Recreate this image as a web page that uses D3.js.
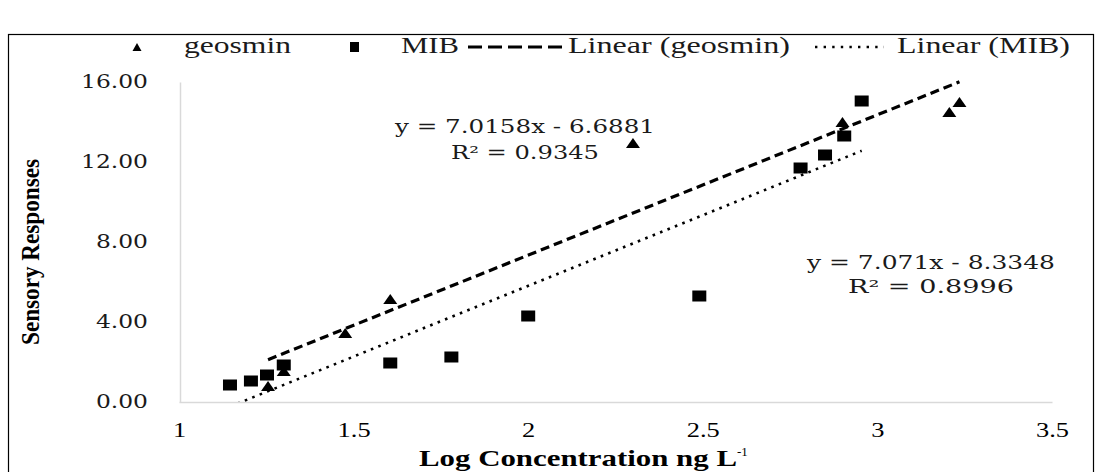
<!DOCTYPE html>
<html>
<head>
<meta charset="utf-8">
<script src="https://cdn.jsdelivr.net/npm/d3@7"></script>
<style>
  body { margin: 0; background: #fff; }
  svg { display: block; }
</style>
</head>
<body>
<div id="chart"></div>
<script>

// data
var geosminX = [1.255, 1.30, 1.476, 1.605, 2.30, 2.90, 3.206, 3.235];
var geosminY = [0.80, 1.55, 3.45, 5.15, 12.95, 14.0, 14.5, 15.0];

var mibX = [1.146, 1.206, 1.252, 1.30, 1.605, 1.78, 2.0, 2.49, 2.78, 2.85, 2.905, 2.955];
var mibY = [0.85, 1.05, 1.35, 1.85, 1.95, 2.25, 4.3, 5.3, 11.7, 12.35, 13.3, 15.05];

// trendline coefficients as printed on the chart
var geosminFit = {slope: 7.0158, intercept: -6.6881, eq: "y = 7.0158x - 6.6881", r2: "R\u00b2 = 0.9345"};
var mibFit = {slope: 7.071, intercept: -8.3348, eq: "y = 7.071x - 8.3348", r2: "R\u00b2 = 0.8996"};

var xTicks = [1, 1.5, 2, 2.5, 3, 3.5];
var yTicks = [0, 4, 8, 12, 16];

var legendLabels = ["geosmin", "MIB", "Linear (geosmin)", "Linear (MIB)"];

var width = 1099, height = 472;

var svg = d3.select("#chart")
  .append("svg")
    .attr("width", width)
    .attr("height", height);

// outer frame
svg.append("rect")
    .attr("x", 8.5)
    .attr("y", 34.5)
    .attr("width", 1085)
    .attr("height", 460)
    .attr("fill", "none")
    .attr("stroke", "#000")
    .attr("stroke-width", 1.2);

var x = d3.scaleLinear().domain([1, 3.5]).range([179, 1052]);
var y = d3.scaleLinear().domain([0, 16]).range([402, 82]);

// X axis
var xAxis = svg.append("g")
    .attr("transform", "translate(0,402)")
    .call(d3.axisBottom(x).tickValues(xTicks).tickSize(0).tickPadding(19)
      .tickFormat(function(d) { return String(d); }));
xAxis.select(".domain").attr("stroke", "#d9d9d9").attr("stroke-width", 1.5);
xAxis.selectAll("text")
    .attr("font-family", "Liberation Serif, serif")
    .attr("font-size", 22)
    .attr("fill", "#000")
    .attr("transform", "scale(1.2,1)");

// Y axis
var yAxis = svg.append("g")
    .attr("transform", "translate(180,0)")
    .call(d3.axisLeft(y).tickValues(yTicks).tickSize(0).tickFormat(d3.format(".2f")));
yAxis.select(".domain").attr("stroke", "#d9d9d9").attr("stroke-width", 1.5);
yAxis.selectAll("text")
    .attr("x", -32 / 1.3)
    .attr("font-family", "DejaVu Serif, serif")
    .attr("font-size", 18)
    .attr("fill", "#1a1a1a")
    .attr("transform", "scale(1.3,1)");

// axis titles
svg.append("text")
    .attr("transform", "translate(39,252) rotate(-90)")
    .attr("text-anchor", "middle")
    .attr("font-family", "Liberation Serif, serif")
    .attr("font-weight", "bold")
    .attr("font-size", 26)
    .attr("textLength", 186)
    .attr("lengthAdjust", "spacingAndGlyphs")
    .text("Sensory Responses");

var xt = svg.append("text")
    .attr("x", 419)
    .attr("y", 466)
    .attr("font-family", "Liberation Serif, serif")
    .attr("font-weight", "bold")
    .attr("font-size", 23);
xt.append("tspan")
    .attr("textLength", 318)
    .attr("lengthAdjust", "spacingAndGlyphs")
    .text("Log Concentration ng L");
xt.append("tspan")
    .attr("dy", -10)
    .attr("font-size", 13)
    .attr("font-weight", "normal")
    .text("-1");

// trendlines, clipped to the plot area
svg.append("clipPath")
    .attr("id", "clip")
  .append("rect")
    .attr("x", 179)
    .attr("y", 78)
    .attr("width", 873)
    .attr("height", 324);

var plot = svg.append("g").attr("clip-path", "url(#clip)");

function fitLine(fit, xs) {
  var ext = d3.extent(xs);
  return ext.map(function(v) { return [x(v), y(fit.slope * v + fit.intercept)]; });
}

plot.append("path")
    .attr("d", d3.line()(fitLine(geosminFit, geosminX)))
    .attr("fill", "none")
    .attr("stroke", "#000")
    .attr("stroke-width", 3.2)
    .attr("stroke-dasharray", "9,5");

plot.append("path")
    .attr("d", d3.line()(fitLine(mibFit, mibX)))
    .attr("fill", "none")
    .attr("stroke", "#000")
    .attr("stroke-width", 2.6)
    .attr("stroke-dasharray", "2.6,5.4");

// markers
var tri = "M0,-5L7,5L-7,5Z";

svg.append("g")
  .selectAll("rect")
  .data(d3.zip(mibX, mibY))
  .enter().append("rect")
    .attr("x", function(d) { return x(d[0]) - 7; })
    .attr("y", function(d) { return y(d[1]) - 5.5; })
    .attr("width", 14)
    .attr("height", 11)
    .attr("fill", "#000");

svg.append("g")
  .selectAll("path")
  .data(d3.zip(geosminX, geosminY))
  .enter().append("path")
    .attr("d", tri)
    .attr("transform", function(d) { return "translate(" + x(d[0]) + "," + y(d[1]) + ")"; })
    .attr("fill", "#000");

// equations
function equation(fit, cx, yEq, wEq, yR, wR) {
  svg.append("text")
      .attr("x", cx).attr("y", yEq)
      .attr("text-anchor", "middle")
      .attr("font-family", "DejaVu Serif, serif")
      .attr("font-size", 18)
      .attr("fill", "#1a1a1a")
      .attr("textLength", wEq)
      .attr("lengthAdjust", "spacingAndGlyphs")
      .text(fit.eq);
  svg.append("text")
      .attr("x", cx).attr("y", yR)
      .attr("text-anchor", "middle")
      .attr("font-family", "DejaVu Serif, serif")
      .attr("font-size", 18)
      .attr("fill", "#1a1a1a")
      .attr("textLength", wR)
      .attr("lengthAdjust", "spacingAndGlyphs")
      .text(fit.r2);
}
equation(geosminFit, 525, 133, 260, 159, 148);
equation(mibFit, 931, 269, 248, 293, 166);

// legend
var lg = svg.append("g");
var legendY = 47;

lg.append("path")
    .attr("d", "M0,-4L4.5,4L-4.5,4Z")
    .attr("transform", "translate(137," + legendY + ")");
lg.append("rect")
    .attr("x", 350).attr("y", legendY - 5)
    .attr("width", 9).attr("height", 10);
lg.append("line")
    .attr("x1", 468).attr("x2", 566)
    .attr("y1", legendY).attr("y2", legendY)
    .attr("stroke", "#000").attr("stroke-width", 3)
    .attr("stroke-dasharray", "14,6");
lg.append("line")
    .attr("x1", 815).attr("x2", 884)
    .attr("y1", legendY).attr("y2", legendY)
    .attr("stroke", "#000").attr("stroke-width", 2.4)
    .attr("stroke-dasharray", "2.4,6.2");

var legendPos = [[184, 107], [401, 58], [568, 222], [897, 173]];
lg.selectAll("text")
  .data(legendLabels)
  .enter().append("text")
    .attr("x", function(d, i) { return legendPos[i][0]; })
    .attr("y", legendY + 6)
    .attr("font-family", "Liberation Serif, serif")
    .attr("font-size", 23)
    .attr("fill", "#1a1a1a")
    .attr("textLength", function(d, i) { return legendPos[i][1]; })
    .attr("lengthAdjust", "spacingAndGlyphs")
    .text(function(d) { return d; });

</script>
</body>
</html>
